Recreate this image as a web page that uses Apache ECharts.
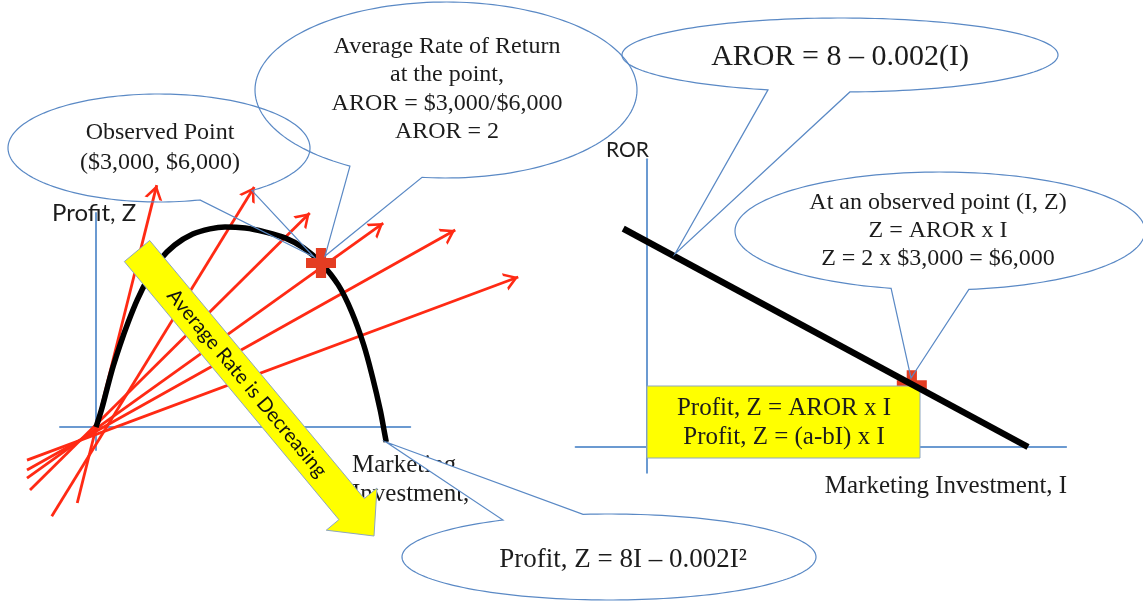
<!DOCTYPE html>
<html>
<head>
<meta charset="utf-8">
<title>Average Rate of Return</title>
<script src="https://cdn.jsdelivr.net/npm/echarts@6.0.0/dist/echarts.min.js"></script>
<style>
  html, body { margin: 0; padding: 0; background: #fff; }
  #chart { width: 1143px; height: 601px; }
</style>
</head>
<body>
<div id="chart"></div>
<script>
// left panel: profit curve, Z against marketing investment I ($)
const curveInvest = [0, 80, 150, 230, 320, 430, 550, 690, 850, 1050, 1290, 1520, 1720, 1990, 2250, 2520, 2770, 3000, 3230, 3410, 3570, 3690, 3790, 3840, 3870]
const curveProfit = [0, 700, 1430, 2230, 3000, 3840, 4650, 5420, 6110, 6660, 7060, 7250, 7320, 7280, 7140, 6920, 6550, 6000, 5200, 4210, 3000, 1790, 620, -110, -550]
// red rays (average rate lines), tail and head in (I, Z)
const rayFrom = [[-250, -2780], [-590, -3260], [-880, -2300], [-920, -1870], [-920, -1570], [-920, -1210]]
const rayTo = [[810, 8850], [2110, 8780], [2850, 7830], [3830, 7460], [4790, 7210], [5630, 5490]]
const observedPoint = [3000, 6000]

// right panel: AROR = 8 - 0.002 I
const rorInvest = [-250, 4000]
const rorValue = [8.5, 0]
const rorObserved = [2780, 2.4]

const chart = echarts.init(document.getElementById('chart'))

const blue = '#6b9ad1'
const bubbleBlue = '#5a89c5'
const serif = 'Liberation Serif'
const sans = 'Lato'

// open chevron, apex at the centre of a square box so the shaft reaches the tip
const chevron = 'path://M13,0 L21.5,13.5 L18.7,13.5 L13,4.5 L7.3,13.5 L4.5,13.5 Z M0,-13.5 L0.01,-13.5 L0,-13.49 Z M26,-13.5 L25.99,-13.5 L26,-13.49 Z'
const plus = 'path://M3.3,0 H6.7 V3.3 H10 V6.7 H6.7 V10 H3.3 V6.7 H0 V3.3 H3.3 Z'

// speech bubble outline: ellipse with a gap (a1..a2 degrees) and a tail to tip
function bubble(cx, cy, rx, ry, a1, a2, tip) {
  const pts = []
  const pt = (a) => [cx + rx * Math.cos(a * Math.PI / 180), cy + ry * Math.sin(a * Math.PI / 180)]
  for (let a = a2; a < a1 + 360; a += 2) pts.push(pt(a))
  pts.push(pt(a1 + 360))
  pts.push(tip)
  return pts
}

// big yellow arrow
function yellowArrow(s, t, half, headHalf, headLen) {
  const len = Math.hypot(t[0] - s[0], t[1] - s[1])
  const d = [(t[0] - s[0]) / len, (t[1] - s[1]) / len]
  const p = [-d[1], d[0]]
  const b = [t[0] - headLen * d[0], t[1] - headLen * d[1]]
  const at = (o, k) => [o[0] + k * p[0], o[1] + k * p[1]]
  return [at(s, half), at(b, half), at(b, headHalf), t, at(b, -headHalf), at(b, -half), at(s, -half)]
}
const arrowStart = [137, 251]
const arrowEnd = [374, 536]
const arrowAngle = Math.atan2(arrowEnd[1] - arrowStart[1], arrowEnd[0] - arrowStart[0])

const textStyle = (text, size, extra) => Object.assign({
  text: text,
  font: size + 'px "' + serif + '"',
  fill: '#1c1c1c',
  textAlign: 'center',
  textVerticalAlign: 'middle'
}, extra || {})

const hiddenAxis = (idx, min, max) => ({
  type: 'value',
  gridIndex: idx,
  min: min,
  max: max,
  axisLine: { show: true, onZero: true, lineStyle: { color: blue, width: 2 } },
  axisTick: { show: false },
  axisLabel: { show: false },
  splitLine: { show: false }
})

const option = {
  backgroundColor: '#fff',
  animation: false,
  grid: [
    { left: 60, top: 213, width: 350.25, height: 237 },
    { left: 575.6, top: 159.2, width: 490.5, height: 313.5 }
  ],
  xAxis: [hiddenAxis(0, -480, 4190), hiddenAxis(1, -750, 4400)],
  yAxis: [hiddenAxis(0, -840, 7830), hiddenAxis(1, -1, 11.2)],
  series: [
    {
      type: 'lines',
      coordinateSystem: 'cartesian2d',
      xAxisIndex: 0,
      yAxisIndex: 0,
      clip: false,
      z: 2,
      symbol: ['none', chevron],
      symbolSize: 28,
      lineStyle: { color: '#ff2a14', width: 2.8, opacity: 1, curveness: 0 },
      data: rayFrom.map((f, i) => ({ coords: [f, rayTo[i]] }))
    },
    {
      type: 'line',
      xAxisIndex: 0,
      yAxisIndex: 0,
      clip: false,
      z: 3,
      smooth: 0.35,
      symbol: 'none',
      lineStyle: { color: '#000', width: 5.5 },
      data: curveInvest.map((x, i) => [x, curveProfit[i]])
    },
    {
      type: 'scatter',
      xAxisIndex: 0,
      yAxisIndex: 0,
      z: 4,
      symbol: plus,
      symbolSize: 30,
      itemStyle: { color: '#e43d22', opacity: 1 },
      data: [observedPoint]
    },
    {
      type: 'scatter',
      xAxisIndex: 1,
      yAxisIndex: 1,
      z: 2,
      symbol: plus,
      symbolSize: 30,
      itemStyle: { color: '#e43d22', opacity: 1 },
      data: [rorObserved]
    },
    {
      type: 'line',
      xAxisIndex: 1,
      yAxisIndex: 1,
      clip: false,
      z: 6,
      symbol: 'none',
      lineStyle: { color: '#000', width: 6.5 },
      data: rorInvest.map((x, i) => [x, rorValue[i]])
    }
  ],
  graphic: [
    // axis titles
    { type: 'text', x: 52, y: 213, z: 1, style: textStyle('Profit, Z', 24, { font: '24px "' + sans + '"', textAlign: 'left' }) },
    { type: 'text', x: 352, y: 480, z: 1, style: textStyle('Marketing\nInvestment, I', 25, { textAlign: 'left', lineHeight: 29 }) },
    { type: 'text', x: 606, y: 150, z: 1, style: textStyle('ROR', 21, { font: '21px "' + sans + '"', textAlign: 'left' }) },
    { type: 'text', x: 946, y: 486, z: 1, style: textStyle('Marketing Investment, I', 25) },
    // yellow arrow
    {
      type: 'polygon', z: 10,
      shape: { points: yellowArrow(arrowStart, arrowEnd, 16.5, 33, 35) },
      style: { fill: '#ffff00', stroke: '#8ea6c0', lineWidth: 1 }
    },
    {
      type: 'text', z: 11,
      x: arrowStart[0] + 172 * Math.cos(arrowAngle),
      y: arrowStart[1] + 172 * Math.sin(arrowAngle),
      rotation: -arrowAngle,
      style: textStyle('Average Rate is Decreasing', 20, { font: '20px "' + sans + '"', fill: '#111' })
    },
    // yellow box on the right
    {
      type: 'rect', z: 4,
      shape: { x: 647, y: 386, width: 273, height: 72 },
      style: { fill: '#ffff00', stroke: '#8ea6c0', lineWidth: 1 }
    },
    { type: 'text', x: 784, y: 423, z: 5, style: textStyle('Profit, Z = AROR x I\nProfit, Z = (a-bI) x I', 25, { lineHeight: 29 }) },
    // speech bubbles
    {
      type: 'polygon', z: 12,
      shape: { points: bubble(159, 148, 151, 54, 52, 74.3, [314, 257]) },
      style: { fill: 'none', stroke: bubbleBlue, lineWidth: 1.2 }
    },
    { type: 'text', x: 160, y: 148, z: 13, style: textStyle('Observed Point\n($3,000, $6,000)', 24, { lineHeight: 30 }) },
    {
      type: 'polygon', z: 12,
      shape: { points: bubble(446, 90, 191, 88, 97.2, 120.2, [325, 256]) },
      style: { fill: 'none', stroke: bubbleBlue, lineWidth: 1.2 }
    },
    { type: 'text', x: 447, y: 89, z: 13, style: textStyle('Average Rate of Return\nat the point,\nAROR = $3,000/$6,000\nAROR = 2', 24, { lineHeight: 28.5 }) },
    {
      type: 'polygon', z: 12,
      shape: { points: bubble(840, 55, 218, 37, 87.4, 109.3, [675, 254]) },
      style: { fill: 'none', stroke: bubbleBlue, lineWidth: 1.2 }
    },
    { type: 'text', x: 840, y: 57, z: 13, style: textStyle('AROR = 8 – 0.002(I)', 30) },
    {
      type: 'polygon', z: 12,
      shape: { points: bubble(940, 231, 205, 59, 81.9, 103.8, [911, 378]) },
      style: { fill: 'none', stroke: bubbleBlue, lineWidth: 1.2 }
    },
    { type: 'text', x: 938, y: 231, z: 13, style: textStyle('At an observed point (I, Z)\nZ = AROR x I\nZ = 2 x $3,000 = $6,000', 24, { lineHeight: 28 }) },
    {
      type: 'polygon', z: 12,
      shape: { points: bubble(609, 557, 207, 43, 239.2, 262.8, [386, 442]) },
      style: { fill: '#fff', stroke: bubbleBlue, lineWidth: 1.2 }
    },
    { type: 'text', x: 623, y: 560, z: 13, style: textStyle('Profit, Z = 8I – 0.002I²', 27) }
  ]
}

chart.setOption(option)
</script>
</body>
</html>
